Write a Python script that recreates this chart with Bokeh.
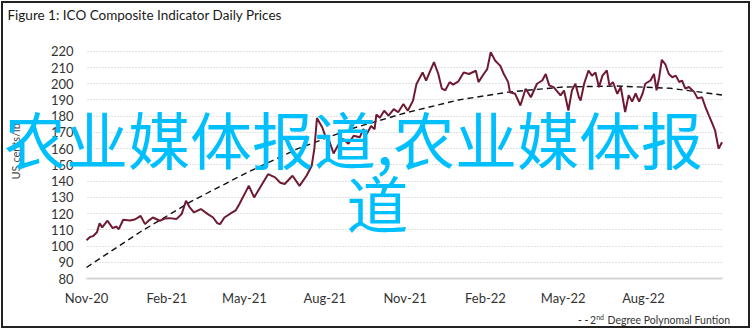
import math
import pandas as pd
from bokeh.plotting import figure
from bokeh.models import (Range1d, FixedTicker, DatetimeTickFormatter, Label,
                          ColumnDataSource, BoxAnnotation)
from bokeh.embed import file_html
from bokeh.resources import INLINE

# ---------------- data ----------------
start_date = "2020-11-01"
price_days = [0, 4, 8, 12, 15, 18, 24, 30, 34, 37, 42, 50, 56, 62, 67, 72, 76, 84, 90, 95,
              103, 109, 114, 118, 123, 131, 139, 145, 150, 153, 158, 167, 171, 175, 181, 186,
              192, 200, 208, 216, 222, 227, 236, 244, 252, 258, 261, 264, 267, 270, 274, 278,
              283, 288, 294, 300, 306, 313, 317, 321, 326, 330, 332, 336, 341, 346, 352, 357,
              363, 368, 374, 378, 385, 389, 393, 398, 403, 407, 411, 416, 420, 426, 432, 438,
              446, 449, 455, 459, 463, 468, 474, 478, 483, 485, 491, 497, 503, 509, 516, 522,
              526, 530, 535, 543, 547, 552, 556, 560, 564, 566, 570, 575, 579, 583, 587, 591,
              596, 599, 603, 608, 612, 617, 621, 625, 629, 633, 637, 640, 646, 650, 653, 656,
              659, 663, 667, 671, 675, 679, 682, 686, 690, 696, 700, 705, 709, 713, 717, 720,
              724, 728]
price_values = [103.6, 105.5, 106.3, 108.5, 114.0, 111.5, 115.6, 111.0, 112.0, 110.4, 116.2,
                115.8, 116.5, 118.6, 113.5, 116.0, 117.6, 115.6, 117.0, 117.2, 116.6, 119.7,
                127.9, 124.0, 120.7, 122.8, 119.7, 117.6, 114.0, 113.5, 117.6, 120.7, 122.0,
                125.8, 132.0, 137.1, 130.0, 137.1, 144.3, 142.3, 139.0, 138.2, 143.3, 137.1,
                143.3, 149.5, 160.0, 178.9, 176.0, 173.2, 167.0, 165.0, 157.0, 162.0, 166.0,
                163.0, 168.0, 167.0, 172.0, 169.0, 174.0, 172.0, 181.0, 179.0, 183.4, 180.3,
                184.4, 182.4, 187.5, 183.4, 189.6, 199.9, 207.0, 201.9, 207.0, 213.3, 206.0,
                197.0, 196.0, 201.0, 199.5, 201.5, 207.0, 206.0, 208.0, 201.0, 206.0, 209.0,
                219.5, 214.3, 211.0, 206.0, 201.0, 194.8, 193.8, 186.6, 196.9, 191.7, 200.0,
                202.0, 206.0, 199.0, 197.9, 192.8, 195.8, 183.5, 195.8, 200.0, 191.7, 189.7,
                200.0, 208.2, 205.0, 207.0, 197.9, 205.0, 208.2, 199.0, 201.0, 193.8, 198.0,
                182.5, 193.0, 189.0, 194.0, 189.0, 194.0, 200.0, 202.0, 206.0, 196.0, 204.0,
                214.8, 212.0, 206.0, 204.0, 205.0, 201.0, 202.0, 197.0, 198.0, 195.0, 191.0,
                191.7, 185.6, 180.4, 175.3, 171.2, 160.0, 164.0]
trend_days = [0, 61, 120, 181, 242, 304, 365, 426, 485, 546, 607, 669, 728]
trend_values = [86.8, 108.5, 127.5, 144.5, 160.0, 172.4, 182.0, 190.0, 195.0, 198.0, 198.6,
                197.2, 193.1]
tick_dates = ["2020-11-01", "2021-02-01", "2021-05-01", "2021-08-01", "2021-11-01",
              "2022-02-01", "2022-05-01", "2022-08-01"]
y_ticks = [80, 90, 100, 110, 120, 130, 140, 150, 160, 170, 180, 190, 200, 210, 220]
title_text = "Figure 1: ICO Composite Indicator Daily Prices"
y_label_text = "US cents/lb"
legend_text = "Degree Polynomal Funtion"
watermark_line1 = "农业媒体报道,农业媒体报"
watermark_line2 = "道"

# ---------------- layout helpers ----------------
W, H = 749, 327                # canvas size (inside the 2px page border)
PLOT_LEFT, PLOT_RIGHT = 83, 719   # canvas px of first / last date
Y_TOP_PX, Y_BOT_PX = 47.8, 275.0  # canvas px of 220 / 80
SPAN_DAYS = 728.5
DAY_MS = 86400000.0

t0 = pd.Timestamp(start_date)
T0 = t0.value / 1e6
px_per_day = (PLOT_RIGHT - PLOT_LEFT) / SPAN_DAYS
px_per_unit = (Y_BOT_PX - Y_TOP_PX) / (220 - 80)

def cx(px):  # canvas x -> data x (ms)
    return T0 + (px - PLOT_LEFT) / px_per_day * DAY_MS

def cy(py):  # canvas y (from top) -> data y
    return 220 - (py - Y_TOP_PX) / px_per_unit

def ms(ts):
    return pd.Timestamp(ts).value / 1e6

END = T0 + SPAN_DAYS * DAY_MS

price_src = ColumnDataSource(dict(
    date=t0 + pd.to_timedelta(price_days, unit="D"), value=price_values))
trend_src = ColumnDataSource(dict(
    date=t0 + pd.to_timedelta(trend_days, unit="D"), value=trend_values))

p = figure(width=W, height=H, output_backend="svg", toolbar_location=None, title=None,
           x_axis_type="datetime",
           x_range=Range1d(cx(0), cx(W)), y_range=Range1d(cy(H), cy(0)),
           min_border_left=0, min_border_right=0, min_border_top=0, min_border_bottom=0)
p.styles = {"margin": "1px", "border": "2px solid #222222"}
p.background_fill_color = "white"
p.border_fill_color = "white"
p.outline_line_color = None

TICK_FONT = "Lato"
# y axis, drawn at the first date
p.yaxis.fixed_location = T0
p.yaxis.ticker = FixedTicker(ticks=y_ticks)
p.yaxis.axis_line_color = None
p.yaxis.major_tick_line_color = None
p.yaxis.minor_tick_line_color = None
p.yaxis.major_tick_out = 0
p.yaxis.major_tick_in = 0
p.yaxis.major_label_standoff = 13
p.yaxis.major_label_text_font = TICK_FONT
p.yaxis.major_label_text_font_size = "13px"
p.yaxis.major_label_text_color = "#333333"
# x axis, drawn at 80
p.xaxis.fixed_location = 80
p.xaxis.bounds = (T0, END)
p.xaxis.ticker = FixedTicker(ticks=[ms(d) for d in tick_dates])
p.xaxis.formatter = DatetimeTickFormatter(days="%b-%y", months="%b-%y", years="%b-%y")
p.xaxis.axis_line_color = "#d4d4d4"
p.xaxis.axis_line_width = 2
p.xaxis.major_tick_line_color = None
p.xaxis.minor_tick_line_color = None
p.xaxis.major_tick_out = 0
p.xaxis.major_tick_in = 0
p.xaxis.major_label_standoff = 11
p.xaxis.major_label_text_font = TICK_FONT
p.xaxis.major_label_text_font_size = "13px"
p.xaxis.major_label_text_color = "#333333"
# grid
p.xgrid.grid_line_color = None
p.ygrid.ticker = FixedTicker(ticks=y_ticks[1:])
p.ygrid.grid_line_color = "#c4c4c4"
p.ygrid.grid_line_dash = "1 2"
p.ygrid.grid_line_width = 1.2
# keep grid lines only over the date span
for l, r in [(cx(0), T0), (END, cx(W))]:
    p.add_layout(BoxAnnotation(left=l, right=r, bottom=cy(H), top=cy(0), level="underlay",
                               fill_color="white", fill_alpha=1.0, line_color=None))

# series
p.line("date", "value", source=trend_src, line_color="#111111", line_width=1.4,
       line_dash="6 4")
p.line("date", "value", source=price_src, line_color="#6E1A32", line_width=2)

# title, axis label, legend
p.add_layout(Label(x=cx(4), y=cy(11), text=title_text,
                   text_font=TICK_FONT, text_font_size="13.5px", text_color="#1a1a1a",
                   text_baseline="middle", text_align="left"))
p.add_layout(Label(x=cx(12), y=cy(147.8), text=y_label_text,
                   angle=math.pi / 2, text_font=TICK_FONT, text_font_size="11px",
                   text_color="#444444", text_baseline="middle", text_align="center"))
LEG_Y = 316.6
p.add_layout(Label(x=cx(726.5), y=cy(LEG_Y), text=legend_text,
                   text_font=TICK_FONT, text_font_size="10.5px", text_color="#333333",
                   text_baseline="middle", text_align="right"))
p.add_layout(Label(x=cx(600.5), y=cy(LEG_Y - 3), text="nd",
                   text_font=TICK_FONT, text_font_size="7px", text_color="#333333",
                   text_baseline="middle", text_align="right"))
p.add_layout(Label(x=cx(592.5), y=cy(LEG_Y), text="2",
                   text_font=TICK_FONT, text_font_size="10.5px", text_color="#333333",
                   text_baseline="middle", text_align="right"))
p.add_layout(Label(x=cx(585), y=cy(LEG_Y), text="- -",
                   text_font=TICK_FONT, text_font_size="10.5px", text_color="#111111",
                   text_baseline="middle", text_align="right"))

# watermark overlay text
p.add_layout(Label(x=cx(350), y=cy(134.5), text=watermark_line1,
                   text_font="Noto Sans CJK SC", text_font_size="62px",
                   text_color="#00BFFF", text_align="center", text_baseline="middle"))
p.add_layout(Label(x=cx(374), y=cy(198.5), text=watermark_line2,
                   text_font="Noto Sans CJK SC", text_font_size="62px",
                   text_color="#00BFFF", text_align="center", text_baseline="middle"))

open("out.html", "w").write(file_html(p, INLINE))
